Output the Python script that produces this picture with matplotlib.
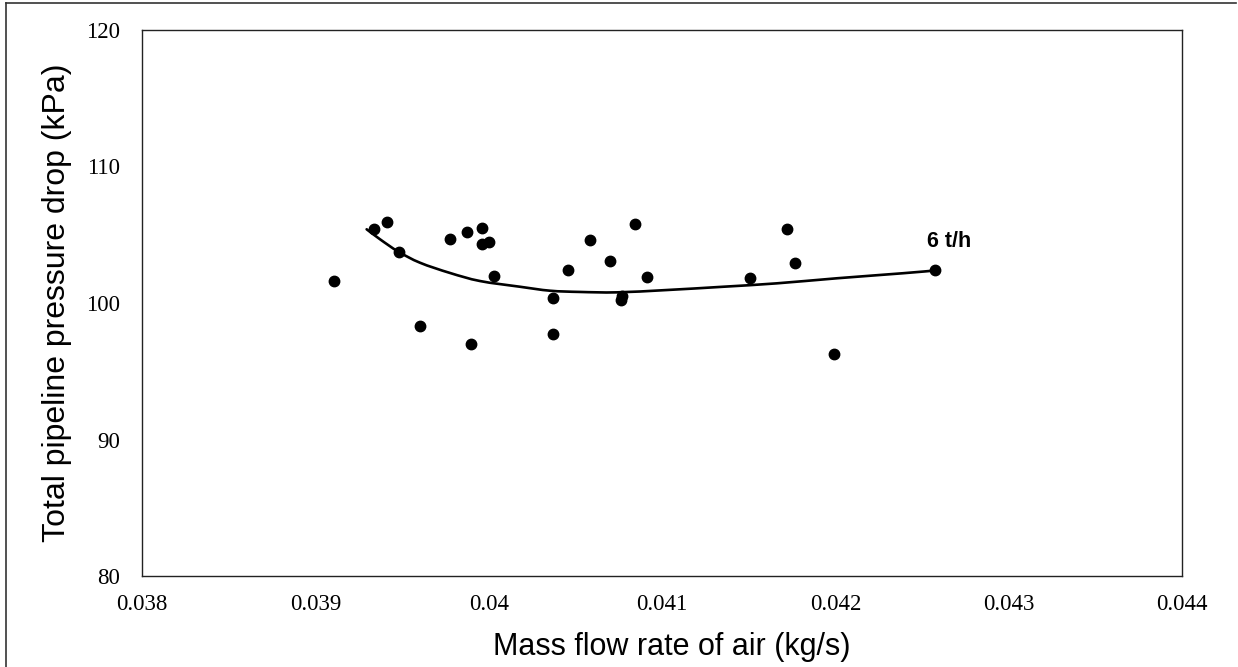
import matplotlib
matplotlib.use("Agg")
import matplotlib.pyplot as plt
from matplotlib.lines import Line2D
from matplotlib.path import Path
from matplotlib.patches import PathPatch

# Measured data points (mass flow rate of air, total pressure drop)
air_flow = [0.039108, 0.039339, 0.039414, 0.039483, 0.039604, 0.039777,
            0.039875, 0.039898, 0.039962, 0.039962, 0.040002, 0.040031,
            0.040371, 0.040371, 0.040458, 0.040585, 0.040700, 0.040770,
            0.040764, 0.040845, 0.040914, 0.041508, 0.041722, 0.041768,
            0.041993, 0.042576]
pressure_drop = [101.6, 105.4, 105.9, 103.7, 98.3, 104.7,
                 105.2, 97.0, 105.5, 104.3, 104.5, 102.0,
                 100.4, 97.7, 102.4, 104.6, 103.1, 100.5,
                 100.2, 105.8, 101.9, 101.8, 105.4, 102.9,
                 96.3, 102.4]

# Trend curve
curve_x = [0.039296, 0.039373, 0.039479, 0.039604, 0.039777, 0.039950,
           0.040181, 0.040354, 0.040527, 0.040739, 0.041027, 0.041352,
           0.041662, 0.042008, 0.042390, 0.042575]
curve_y = [105.40, 104.67, 103.76, 102.95, 102.20, 101.61,
           101.19, 100.90, 100.81, 100.78, 100.95, 101.19,
           101.44, 101.81, 102.18, 102.38]

x_ticks = [0.038, 0.039, 0.040, 0.041, 0.042, 0.043, 0.044]
x_tick_labels = ["0.038", "0.039", "0.04", "0.041", "0.042", "0.043", "0.044"]
y_ticks = [80, 90, 100, 110, 120]
y_tick_labels = ["80", "90", "100", "110", "120"]
series_label = "6 t/h"

fig = plt.figure(figsize=(12.38, 6.67), dpi=100)
fig.patch.set_facecolor("white")
ax = fig.add_axes([142/1238, 1-576/667, (1182-142)/1238, (576-30)/667])

ax.set_xlim(0.038, 0.044)
ax.set_ylim(80, 120)

# smoothed line through the curve points (Catmull-Rom drawn as Bezier segments)
def smooth_path(xs, ys):
    pts = list(zip(xs, ys))
    verts = [pts[0]]
    codes = [Path.MOVETO]
    n = len(pts)
    for i in range(n - 1):
        p0 = pts[i - 1] if i > 0 else pts[i]
        p1 = pts[i]
        p2 = pts[i + 1]
        p3 = pts[i + 2] if i + 2 < n else pts[i + 1]
        c1 = (p1[0] + (p2[0] - p0[0]) / 6, p1[1] + (p2[1] - p0[1]) / 6)
        c2 = (p2[0] - (p3[0] - p1[0]) / 6, p2[1] - (p3[1] - p1[1]) / 6)
        verts += [c1, c2, p2]
        codes += [Path.CURVE4] * 3
    return Path(verts, codes)

ax.add_patch(PathPatch(smooth_path(curve_x, curve_y), facecolor="none",
                       edgecolor="black", lw=1.9, capstyle="round", zorder=2))
ax.plot(air_flow, pressure_drop, "o", color="black", ms=7.5, zorder=3)

ax.set_xticks(x_ticks)
ax.set_xticklabels(x_tick_labels)
ax.set_yticks(y_ticks)
ax.set_yticklabels(y_tick_labels)
ax.tick_params(length=0, labelsize=16.5)
ax.tick_params(axis="y", pad=16)
ax.tick_params(axis="x", pad=13)
for lab in ax.get_xticklabels() + ax.get_yticklabels():
    lab.set_fontfamily("Liberation Serif")
for sp in ax.spines.values():
    sp.set_color("#222222")
    sp.set_linewidth(1.0)

ax.set_xlabel("Mass flow rate of air (kg/s)", fontsize=22, family="Liberation Sans")
ax.xaxis.set_label_coords(0.5096, -0.1026)
ax.set_ylabel("Total pipeline pressure drop (kPa)", fontsize=23, family="Liberation Sans", labelpad=10)

ax.text(0.042656, 104.54, series_label, fontsize=15.5, fontweight="bold",
        family="Liberation Sans", ha="center", va="center")

# outer frame
fig.add_artist(Line2D([6/1238, 6/1238], [0, 1-3/667], color="#333333", lw=1.2, transform=fig.transFigure))
fig.add_artist(Line2D([6/1238, 1236/1238], [1-3/667, 1-3/667], color="#333333", lw=1.2, transform=fig.transFigure))

fig.savefig("out.png", dpi=100)
